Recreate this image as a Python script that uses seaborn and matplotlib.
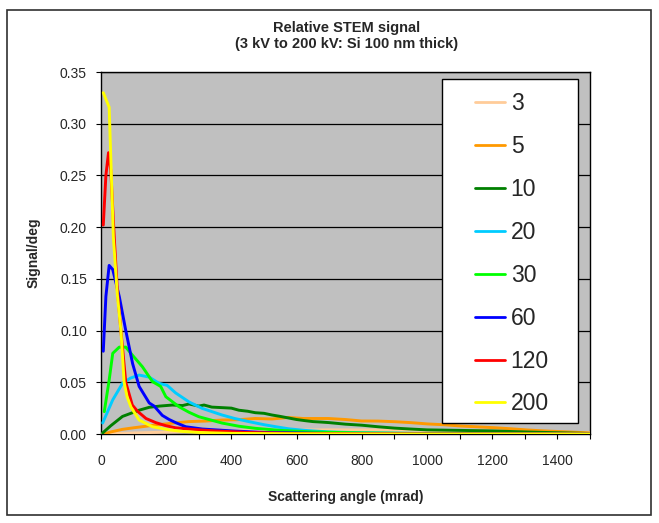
import numpy as np
import pandas as pd
import matplotlib
matplotlib.use("Agg")
import matplotlib.pyplot as plt
from matplotlib.patches import Rectangle
from matplotlib.ticker import MultipleLocator, FormatStrFormatter
import seaborn as sns

sns.set_style("white")
plt.rcParams['font.family'] = ['Liberation Sans', 'DejaVu Sans']

# beam energies (kV) and colours
kv_labels = ['3', '5', '10', '20', '30', '60', '120', '200']
kv_colors = ['#FFCC99', '#FF9900', '#008000', '#00CCFF', '#00FF00', '#0000FF', '#FF0000', '#FFFF00']

# scattering angle (mrad) / signal per deg
x_3 = [0, 50, 100, 200, 300, 400, 500, 600, 700, 800, 900, 1000, 1100, 1200, 1300, 1400, 1500]
y_3 = [0, 0.0005, 0.001, 0.0018, 0.0025, 0.003, 0.0035, 0.0038, 0.004, 0.004, 0.0038, 0.0035,
       0.003, 0.0026, 0.002, 0.0015, 0.001]

x_5 = [10, 30, 66, 100, 168, 220, 270, 320, 371, 420, 473, 525, 575, 620, 697, 750, 799, 850,
       901, 950, 1003, 1050, 1105, 1150, 1206, 1260, 1308, 1360, 1410, 1460, 1500]
y_5 = [0.0, 0.002, 0.0045, 0.006, 0.0087, 0.0105, 0.012, 0.0125, 0.0135, 0.0138, 0.015, 0.0145,
       0.016, 0.015, 0.015, 0.014, 0.0126, 0.0125, 0.0119, 0.011, 0.0097, 0.009, 0.0077, 0.007,
       0.0061, 0.005, 0.0039, 0.003, 0.0023, 0.0016, 0.001]

x_10 = [5, 30, 66, 100, 117, 148, 180, 219, 250, 270, 300, 316, 340, 371, 400, 423, 450, 473, 500,
        524, 550, 575, 600, 626, 650, 677, 700, 750, 800, 850, 900, 950, 1000, 1100, 1200, 1300,
        1400, 1500]
y_10 = [0.001, 0.008, 0.017, 0.021, 0.023, 0.0258, 0.027, 0.028, 0.0275, 0.029, 0.027, 0.028,
        0.026, 0.0255, 0.025, 0.023, 0.022, 0.0206, 0.02, 0.0184, 0.017, 0.0155, 0.014, 0.0129,
        0.012, 0.0115, 0.011, 0.0095, 0.0085, 0.007, 0.0057, 0.0048, 0.004, 0.0035, 0.003, 0.002,
        0.0012, 0.0005]

x_20 = [5, 36, 66, 90, 117, 148, 178, 203, 229, 270, 310, 371, 410, 453, 500, 535, 576, 626, 700,
        800, 900, 1000, 1200, 1500]
y_20 = [0.0106, 0.033, 0.049, 0.054, 0.057, 0.055, 0.049, 0.047, 0.0397, 0.031, 0.0248, 0.0184,
        0.015, 0.012, 0.009, 0.0071, 0.005, 0.0035, 0.002, 0.0012, 0.0008, 0.0005, 0.0002, 0.0]

x_30 = [10, 25, 36, 56, 76, 97, 127, 158, 183, 199, 239, 270, 300, 371, 423, 473, 550, 650, 800,
        1000, 1500]
y_30 = [0.0216, 0.052, 0.078, 0.084, 0.084, 0.076, 0.065, 0.0506, 0.046, 0.036, 0.0264, 0.021,
        0.0167, 0.0106, 0.0075, 0.0055, 0.0035, 0.002, 0.001, 0.0004, 0.0]

x_60 = [7, 15, 25, 36, 56, 76, 97, 117, 148, 163, 188, 209, 229, 260, 311, 402, 500, 700, 1000, 1500]
y_60 = [0.080, 0.133, 0.163, 0.159, 0.133, 0.10, 0.068, 0.046, 0.030, 0.027, 0.018, 0.014, 0.011,
        0.007, 0.0048, 0.003, 0.0015, 0.0005, 0.0001, 0.0]

x_120 = [7, 15, 23, 30, 41, 50, 61, 76, 96, 112, 138, 168, 199, 229, 280, 350, 450, 600, 1000, 1500]
y_120 = [0.202, 0.25, 0.272, 0.255, 0.188, 0.14, 0.10, 0.05, 0.028, 0.022, 0.015, 0.011, 0.008,
         0.006, 0.0045, 0.003, 0.0015, 0.0005, 0.0, 0.0]

x_200 = [7, 25, 38, 50, 61, 71, 80, 92, 117, 158, 209, 250, 300, 400, 600, 1000, 1500]
y_200 = [0.330, 0.316, 0.19, 0.135, 0.10, 0.05, 0.036, 0.026, 0.0135, 0.007, 0.004, 0.0025,
         0.0015, 0.0006, 0.0002, 0.0, 0.0]

xs = [x_3, x_5, x_10, x_20, x_30, x_60, x_120, x_200]
ys = [y_3, y_5, y_10, y_20, y_30, y_60, y_120, y_200]

frames = []
for lab, x, y in zip(kv_labels, xs, ys):
    frames.append(pd.DataFrame({'angle': x, 'signal': y, 'kV': lab}))
df = pd.concat(frames, ignore_index=True)

fig = plt.figure(figsize=(6.59, 5.23), dpi=100)
ax = fig.add_axes([101 / 659, 1 - 434 / 523, 489 / 659, 362 / 523])
ax.set_facecolor('#C0C0C0')

sns.lineplot(data=df, x='angle', y='signal', hue='kV', hue_order=kv_labels,
             palette=dict(zip(kv_labels, kv_colors)), estimator=None, sort=False,
             linewidth=2.1, ax=ax, zorder=3)

ax.set_xlim(0, 1500)
ax.set_ylim(0, 0.35)
ax.xaxis.set_major_locator(MultipleLocator(200))
ax.xaxis.set_minor_locator(MultipleLocator(100))
ax.yaxis.set_major_locator(MultipleLocator(0.05))
ax.yaxis.set_major_formatter(FormatStrFormatter('%.2f'))
ax.tick_params(axis='x', which='both', direction='out', length=3.5, width=0.8, pad=11,
               labelsize=10, bottom=True, color='black')
ax.tick_params(axis='y', which='major', direction='out', length=3.6, width=0.8, pad=6.5,
               labelsize=10, left=True, color='black')
ax.grid(axis='y', color='black', linewidth=0.9, zorder=1)
ax.set_axisbelow(True)
for sp in ax.spines.values():
    sp.set_color('black')
    sp.set_linewidth(1)

ax.set_xlabel('Scattering angle (mrad)', fontsize=10, fontweight='bold')
ax.set_ylabel('Signal/deg', fontsize=10, fontweight='bold')
ax.xaxis.set_label_coords(0.5, -(490 - 434) / 362)
ax.yaxis.set_label_coords(-(101 - 41) / 489, 0.5)

fig.text(347 / 659, 1 - 36 / 523, 'Relative STEM signal\n(3 kV to 200 kV: Si 100 nm thick)',
         ha='center', va='center', fontsize=10.5, fontweight='bold', linespacing=1.25)

# legend box (white panel) and entries
ax.add_patch(Rectangle((0.698, 0.031), 0.277, 0.950, transform=ax.transAxes,
                       facecolor='white', edgecolor='black', linewidth=1, zorder=5))
handles, labels = ax.get_legend_handles_labels()
leg = ax.legend(handles, labels, loc='upper left', bbox_to_anchor=(0.765, 0.945),
                frameon=False, fontsize=16.5, handlelength=1.3, handletextpad=0.25,
                labelspacing=0.87, borderpad=0, borderaxespad=0)
leg.set_zorder(6)
for ln in leg.get_lines():
    ln.set_linewidth(2)

# outer chart frame
fig.patches.append(Rectangle((7 / 659, 1 - 515 / 523), 644 / 659, 505 / 523,
                             transform=fig.transFigure, fill=False, edgecolor='#303030',
                             linewidth=1.2))

fig.savefig('out.png', dpi=100)
